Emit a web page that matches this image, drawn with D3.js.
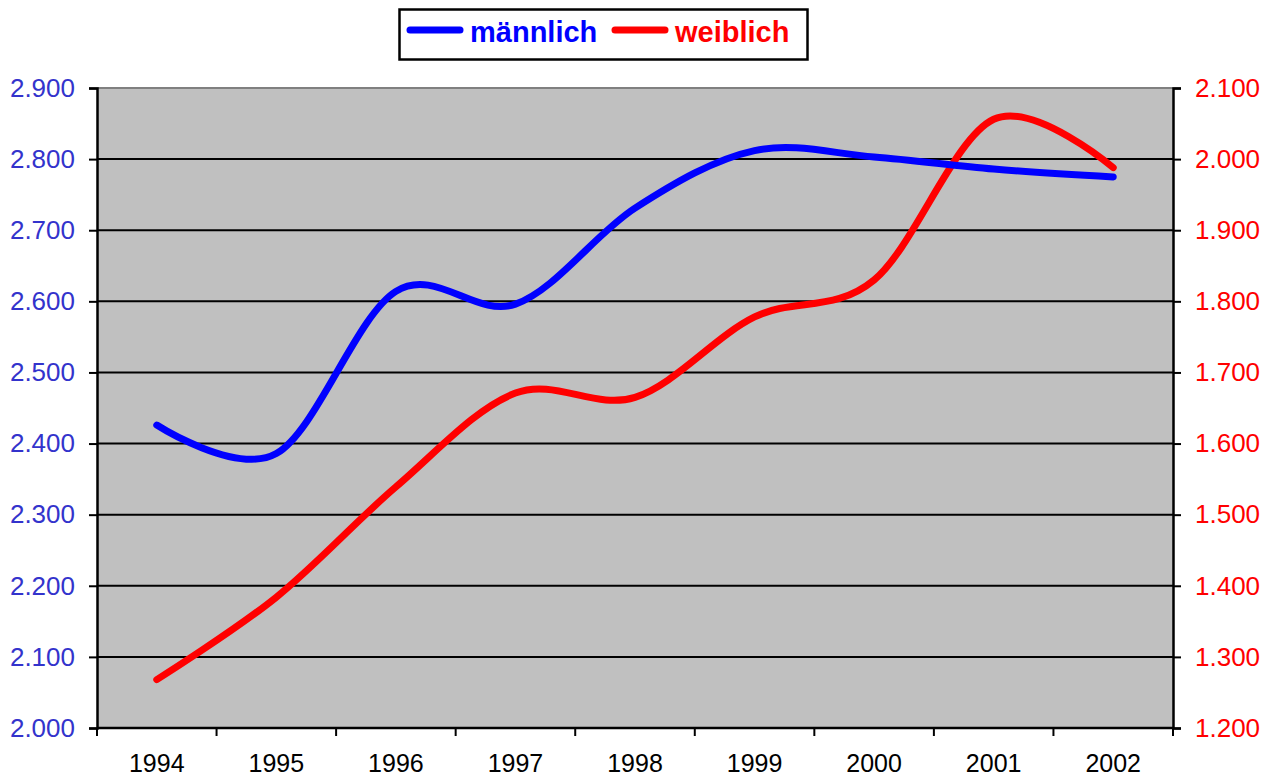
<!DOCTYPE html>
<html lang="de">
<meta charset="utf-8">
<style>
body {
  margin: 0;
  background: #fff;
  font-family: 'Liberation Sans', Arial, sans-serif;
}
.grid line {
  stroke: #000;
  stroke-width: 2px;
}
.series {
  fill: none;
  stroke-width: 7px;
  stroke-linecap: round;
  stroke-linejoin: round;
}
</style>
<body>
<div id="chart"></div>
<script src="https://d3js.org/d3.v7.min.js"></script>
<script>

// data
var years = ["1994", "1995", "1996", "1997", "1998", "1999", "2000", "2001", "2002"];
var maennlich = [2.426, 2.386, 2.614, 2.596, 2.731, 2.812, 2.803, 2.786, 2.775];
var weiblich = [1.268, 1.384, 1.539, 1.671, 1.665, 1.778, 1.830, 2.056, 1.988];
var leftTicks = [2.0, 2.1, 2.2, 2.3, 2.4, 2.5, 2.6, 2.7, 2.8, 2.9];
var rightTicks = [1.2, 1.3, 1.4, 1.5, 1.6, 1.7, 1.8, 1.9, 2.0, 2.1];

var width = 1271,
    height = 778;

var plot = {left: 97, right: 1173, top: 88, bottom: 728};

var fmt = d3.format(".3f");

var svg = d3.select("#chart").append("svg")
    .attr("width", width)
    .attr("height", height);

// category axis, ticks between categories
var x = d3.scaleBand()
    .domain(years)
    .range([plot.left, plot.right]);

var yL = d3.scaleLinear().domain([2.0, 2.9]).range([plot.bottom, plot.top]);
var yR = d3.scaleLinear().domain([1.2, 2.1]).range([plot.bottom, plot.top]);

// plot area
svg.append("rect")
    .attr("x", plot.left)
    .attr("y", plot.top)
    .attr("width", plot.right - plot.left)
    .attr("height", plot.bottom - plot.top)
    .attr("fill", "#c0c0c0");

svg.append("line")
    .attr("x1", plot.left).attr("x2", plot.right)
    .attr("y1", plot.top).attr("y2", plot.top)
    .attr("stroke", "#808080")
    .attr("stroke-width", 2);

// gridlines
svg.append("g")
    .attr("class", "grid")
  .selectAll("line")
    .data(leftTicks.slice(1, -1))
  .enter().append("line")
    .attr("x1", plot.left)
    .attr("x2", plot.right)
    .attr("y1", function(d) { return yL(d); })
    .attr("y2", function(d) { return yL(d); });

// left axis
var leftAxis = svg.append("g")
    .attr("transform", "translate(" + plot.left + ",0)")
    .call(d3.axisLeft(yL).tickValues(leftTicks).tickSize(8).tickPadding(14).tickFormat(fmt));

// right axis
var rightAxis = svg.append("g")
    .attr("transform", "translate(" + plot.right + ",0)")
    .call(d3.axisRight(yR).tickValues(rightTicks).tickSize(8).tickPadding(14).tickFormat(fmt));

// bottom axis
var bottomAxis = svg.append("g")
    .attr("transform", "translate(0," + plot.bottom + ")")
    .call(d3.axisBottom(x).tickSize(0).tickPadding(26));

svg.append("g")
  .selectAll("line")
    .data(years.concat(["end"]))
  .enter().append("line")
    .attr("x1", function(d, i) { return plot.left + i * x.step(); })
    .attr("x2", function(d, i) { return plot.left + i * x.step(); })
    .attr("y1", plot.bottom)
    .attr("y2", plot.bottom + 8)
    .attr("stroke", "#000")
    .attr("stroke-width", 2);

[leftAxis, rightAxis, bottomAxis].forEach(function(g) {
  g.selectAll(".domain").attr("stroke", "#000").attr("stroke-width", 2.5);
  g.selectAll(".tick line").attr("stroke", "#000").attr("stroke-width", 2);
  g.selectAll("text").attr("font-size", 26).attr("font-family", "'Liberation Sans', Arial, sans-serif");
});
bottomAxis.selectAll("text").attr("font-size", 25);
bottomAxis.select(".domain").attr("d", "M" + plot.left + ",0H" + plot.right);
leftAxis.selectAll("text").attr("fill", "#3333cc");
rightAxis.selectAll("text").attr("fill", "#ff0000");
bottomAxis.selectAll("text").attr("fill", "#000");

// lines
var xc = function(i) { return x(years[i]) + x.bandwidth() / 2; };

var lineL = d3.line()
    .x(function(d, i) { return xc(i); })
    .y(function(d) { return yL(d); })
    .curve(d3.curveCardinal.tension(0));

var lineR = d3.line()
    .x(function(d, i) { return xc(i); })
    .y(function(d) { return yR(d); })
    .curve(d3.curveCardinal.tension(0));

svg.append("path")
    .datum(weiblich)
    .attr("class", "series")
    .attr("stroke", "#ff0000")
    .attr("d", lineR);

svg.append("path")
    .datum(maennlich)
    .attr("class", "series")
    .attr("stroke", "#0000ff")
    .attr("d", lineL);

// legend
var legend = svg.append("g");
legend.append("rect")
    .attr("x", 399.5).attr("y", 9.5)
    .attr("width", 408).attr("height", 50)
    .attr("fill", "#fff")
    .attr("stroke", "#000")
    .attr("stroke-width", 2.5);

var legendItems = [
  {name: "männlich", color: "#0000ff", x: 407},
  {name: "weiblich", color: "#ff0000", x: 612}
];

legendItems.forEach(function(d) {
  legend.append("line")
      .attr("x1", d.x + 3).attr("x2", d.x + 53)
      .attr("y1", 30).attr("y2", 30)
      .attr("stroke", d.color)
      .attr("stroke-width", 7)
      .attr("stroke-linecap", "round");
  legend.append("text")
      .attr("x", d.x + 63)
      .attr("y", 42)
      .attr("fill", d.color)
      .attr("font-size", 29)
      .attr("font-weight", "bold")
      .text(d.name);
});

</script>
</body>
</html>
